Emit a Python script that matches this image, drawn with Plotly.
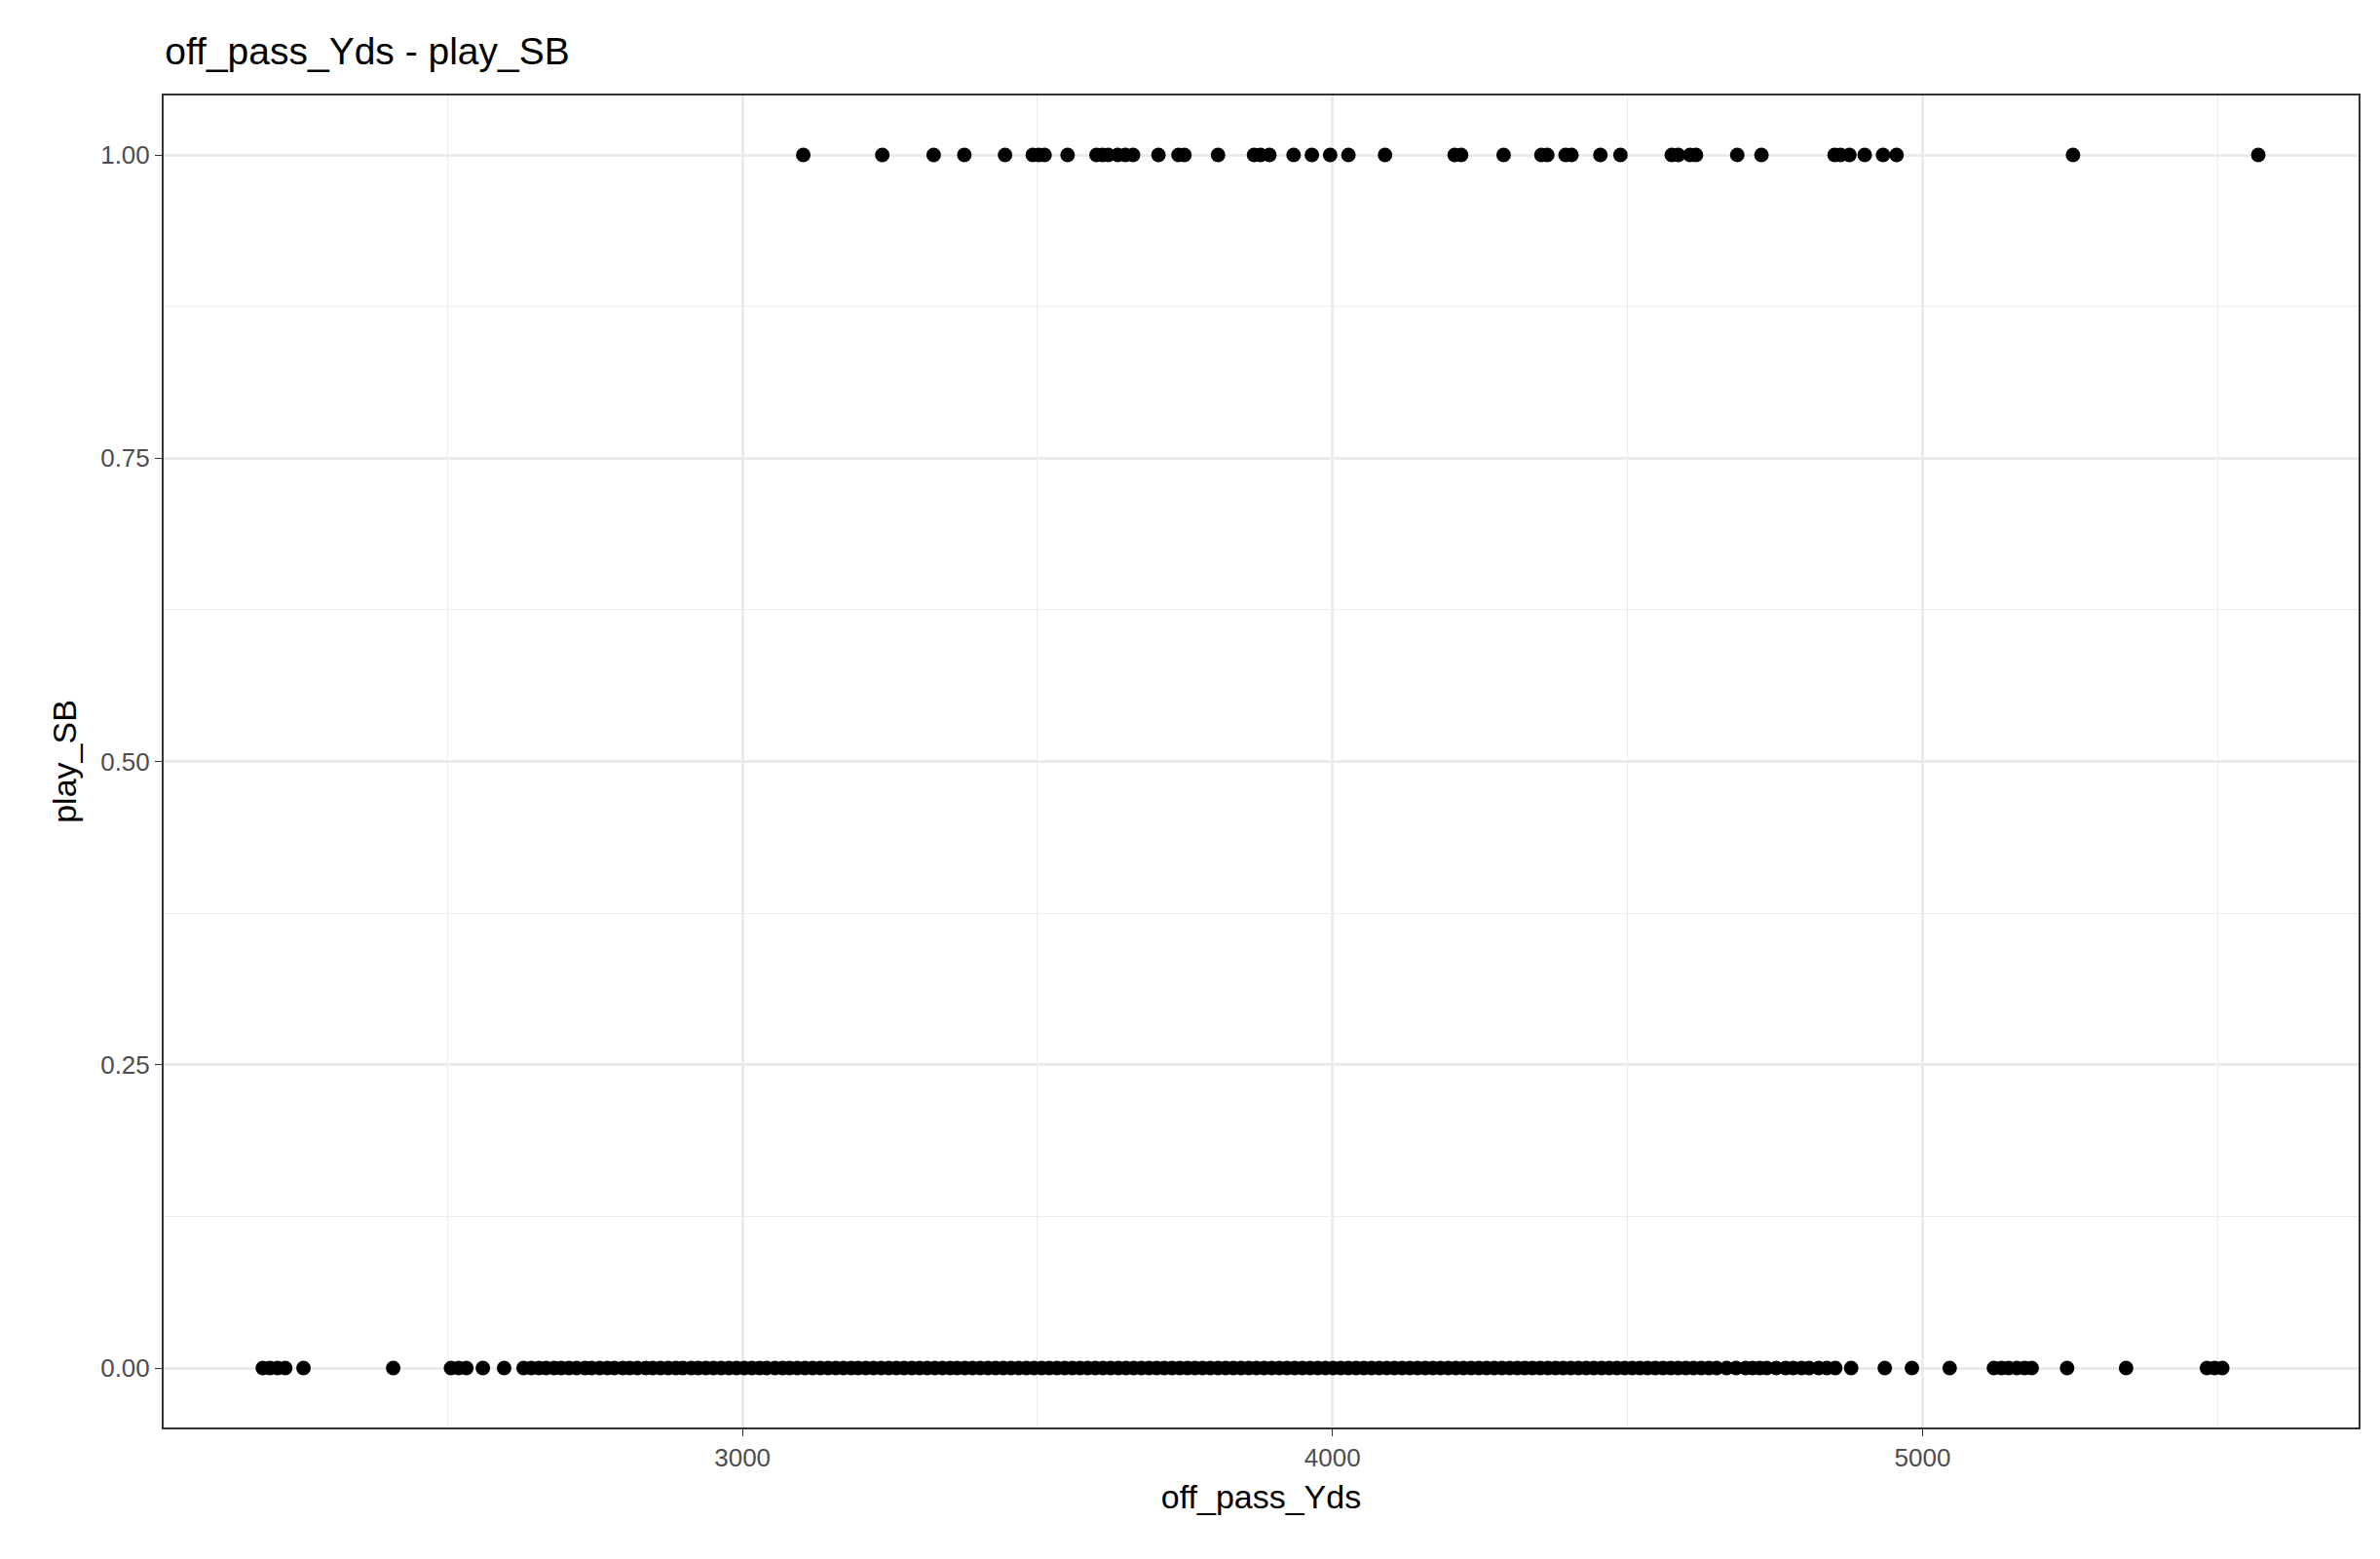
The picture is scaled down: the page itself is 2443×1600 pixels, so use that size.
import plotly.graph_objects as go

# seasons that reached the Super Bowl (play_SB = 1)
yds_sb = [3103, 3237, 3324, 3376, 3445, 3492, 3502, 3512, 3551, 3600, 3610, 3620,
          3636, 3649, 3662, 3705, 3739, 3749, 3806, 3867, 3878, 3893, 3934, 3965,
          3996, 4027, 4089, 4207, 4218, 4290, 4354, 4364, 4395, 4405, 4454, 4488,
          4575, 4586, 4606, 4616, 4686, 4727, 4851, 4861, 4876, 4902, 4933, 4956,
          5255, 5569]

# seasons that did not (play_SB = 0)
yds_no = [2187, 2199, 2212, 2225, 2256, 2408, 2506, 2519, 2532, 2560, 2596, 2629, 2642,
          2655, 2667, 2681, 2693, 2706, 2719, 2733, 2744, 2758, 2771, 2783, 2797, 2809,
          2822, 2836, 2848, 2861, 2874, 2887, 2899, 2913, 2925, 2938, 2951, 2964, 2977,
          2990, 3003, 3016, 3029, 3041, 3055, 3068, 3080, 3093, 3106, 3119, 3132, 3145,
          3158, 3171, 3184, 3196, 3209, 3222, 3235, 3248, 3261, 3274, 3287, 3300, 3313,
          3326, 3339, 3352, 3364, 3377, 3390, 3403, 3416, 3429, 3442, 3455, 3468, 3481,
          3494, 3507, 3520, 3533, 3546, 3559, 3572, 3585, 3598, 3611, 3624, 3637, 3650,
          3663, 3676, 3689, 3702, 3715, 3728, 3741, 3754, 3767, 3780, 3793, 3806, 3819,
          3832, 3845, 3858, 3871, 3884, 3897, 3910, 3923, 3936, 3949, 3962, 3975, 3988,
          4001, 4014, 4027, 4040, 4053, 4066, 4079, 4092, 4105, 4118, 4131, 4144, 4157,
          4170, 4183, 4196, 4209, 4222, 4235, 4248, 4261, 4274, 4287, 4300, 4313, 4326,
          4339, 4352, 4365, 4378, 4391, 4404, 4417, 4430, 4443, 4456, 4469, 4482, 4495,
          4508, 4521, 4534, 4547, 4560, 4573, 4586, 4599, 4612, 4625, 4638, 4651,
          4668, 4684, 4700, 4712, 4724, 4736, 4752, 4768, 4781, 4795, 4808, 4824, 4838,
          4852, 4879, 4936, 4982, 5046, 5121, 5134, 5146, 5160, 5173, 5185, 5245, 5345,
          5482, 5495, 5508]

fig = go.Figure()
fig.add_trace(go.Scatter(x=yds_no + yds_sb,
                         y=[0] * len(yds_no) + [1] * len(yds_sb),
                         mode="markers",
                         marker=dict(color="black", size=15)))

grid_col = "#ebebeb"
fig.update_layout(
    width=2443, height=1600,
    plot_bgcolor="white", paper_bgcolor="white",
    showlegend=False,
    margin=dict(l=160, r=30, t=90, b=143),
    font=dict(family="Liberation Sans, Arial", color="black"),
    title=dict(text="off_pass_Yds - play_SB", x=0.066, xanchor="left",
               y=0.972, yanchor="middle", font=dict(size=39, color="black")),
)
fig.update_xaxes(
    title=dict(text="off_pass_Yds", font=dict(size=34), standoff=14),
    range=[2019, 5739], tickvals=[3000, 4000, 5000],
    tickfont=dict(size=26, color="#4d4d4d"),
    showgrid=True, gridcolor=grid_col, gridwidth=2.5,
    minor=dict(tickvals=[2500, 3500, 4500, 5500], showgrid=True,
               gridcolor=grid_col, gridwidth=1.2),
    ticks="outside", ticklen=7, tickcolor="#333333",
    showline=True, linecolor="#333333", linewidth=2, mirror=True, zeroline=False,
)
fig.update_yaxes(
    title=dict(text="play_SB", font=dict(size=34), standoff=14),
    range=[-0.049, 1.049], tickvals=[0, 0.25, 0.5, 0.75, 1.0],
    ticktext=["0.00", "0.25", "0.50", "0.75", "1.00"],
    tickfont=dict(size=26, color="#4d4d4d"),
    showgrid=True, gridcolor=grid_col, gridwidth=2.5,
    minor=dict(tickvals=[0.125, 0.375, 0.625, 0.875], showgrid=True,
               gridcolor=grid_col, gridwidth=1.2),
    ticks="outside", ticklen=7, tickcolor="#333333",
    showline=True, linecolor="#333333", linewidth=2, mirror=True, zeroline=False,
)

fig.write_html("out.html")
